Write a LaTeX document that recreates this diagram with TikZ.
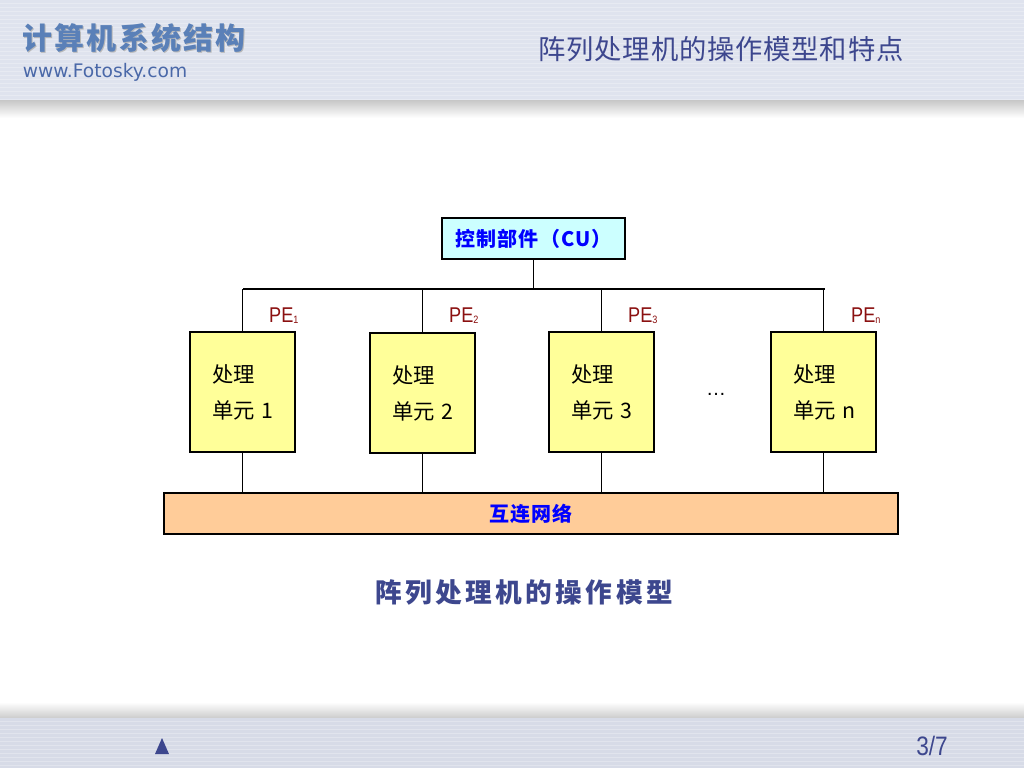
\documentclass[tikz,border=0pt]{standalone}
\usepackage{fontspec}
\setmainfont{Liberation Sans}
\newfontfamily\webfont{DejaVu Sans}
\newfontfamily\cjk{Noto Sans CJK SC}
\newfontfamily\cjklogo[LetterSpace=7]{Noto Sans CJK SC}
\newfontfamily\cjkmid[LetterSpace=3]{Noto Sans CJK SC}
\newfontfamily\cjkcap[LetterSpace=13]{Noto Sans CJK SC}
\newfontfamily\cjkbox[LetterSpace=6]{Noto Sans CJK SC}
\usetikzlibrary{shadows}
\definecolor{headbg}{HTML}{DFE3EE}
\definecolor{footbg}{HTML}{D7DBE7}
\definecolor{titleblue}{HTML}{3D478E}
\definecolor{logoblue}{HTML}{5A80B8}
\definecolor{webblue}{HTML}{4A68A8}
\definecolor{pered}{HTML}{8B1010}
\definecolor{cufill}{HTML}{CCFFFF}
\definecolor{pefill}{HTML}{FFFF99}
\definecolor{netfill}{HTML}{FFCC99}
\tikzset{
  box/.style={draw=black, line width=1.4pt, inner sep=0pt},
  cubox/.style={box, fill=cufill, minimum width=137.25pt, minimum height=30.75pt,
     font=\cjkbox\bfseries\fontsize{15}{18}\selectfont, text=blue},
  pebox/.style={box, fill=pefill, minimum height=90pt, inner xsep=16.5pt,
     text width=45.75pt, align=left, font=\cjk\fontsize{16}{27}\selectfont},
  netbox/.style={box, fill=netfill, minimum width=550.5pt, minimum height=30.75pt,
     font=\cjkbox\bfseries\fontsize{15}{18}\selectfont, text=blue},
  conn/.style={draw=black, line width=1pt},
  pelabel/.style={text=pered, font=\fontsize{16}{18}\selectfont, inner sep=0pt, xscale=0.85, transform shape},
}
\newcommand{\pesub}[1]{\raisebox{-0.1ex}{\fontsize{8}{9}\selectfont #1}}
\begin{document}
\begin{tikzpicture}[x=0.75pt, y=-0.75pt]
\useasboundingbox (0,0) rectangle (1024,768);
% header
\fill[white] (0,0) rectangle (1024,768);
\fill[headbg] (0,0) rectangle (1024,100);
\foreach \yy in {3,7,...,99} \draw[white, opacity=0.25, line width=0.5pt] (0,\yy) -- (1024,\yy);
\shade[top color=black!22, bottom color=white] (0,100) rectangle (1024,118);
% footer
\shade[top color=white, bottom color=black!20] (0,702) rectangle (1024,718);
\fill[footbg] (0,718) rectangle (1024,768);
\foreach \yy in {721,725,...,767} \draw[white, opacity=0.25, line width=0.5pt] (0,\yy) -- (1024,\yy);
% header texts
\node[text=black!28, font=\cjklogo\bfseries\fontsize{22.5}{26}\selectfont, inner sep=0pt] at (135,39.5) {计算机系统结构};
\node (logo) [text=logoblue, font=\cjklogo\bfseries\fontsize{22.5}{26}\selectfont, inner sep=0pt] at (134,38) {计算机系统结构};
\node (web) [text=webblue, font=\webfont\fontsize{14}{16}\selectfont, inner sep=0pt] at (105,72) {www.Fotosky.com};
\node (head) [text=titleblue, font=\cjkmid\fontsize{20.5}{24}\selectfont, inner sep=0pt] at (721,49) {阵列处理机的操作模型和特点};
% diagram
\node (cu) [cubox] at (533.5,238.5) {控制部件（CU）};
\node (pe1) [pebox] at (242.5,392) {处理\\单元~1};
\node (pe2) [pebox] at (422.5,393) {处理\\单元~2};
\node (pe3) [pebox] at (601.5,392) {处理\\单元~3};
\node (pen) [pebox] at (823.5,392) {处理\\单元~n};
\node (net) [netbox] at (531,513.5) {互连网络};
\coordinate (busL) at (243,289);
\coordinate (busR) at (825,289);
\draw[conn] (busL) -- (busR);
\draw[conn] (cu.south) -- (cu.south |- busL);
\foreach \p in {pe1,pe2,pe3,pen} {
  \draw[conn] (\p.north) -- (\p.north |- busL);
  \draw[conn] (\p.south) -- (\p.south |- net.north);
}
\node (l1) [pelabel, anchor=west] at (269,316) {PE\pesub{1}};
\node (l2) [pelabel, anchor=west] at (449,316) {PE\pesub{2}};
\node (l3) [pelabel, anchor=west] at (628,316) {PE\pesub{3}};
\node (ln) [pelabel, anchor=west] at (851,316) {PE\pesub{n}};
\node (dots) [font=\fontsize{15}{16}\selectfont, inner sep=0pt] at (716,394) {\dots};
% caption
\node (cap) [text=titleblue, font=\cjkcap\bfseries\fontsize{20}{24}\selectfont, inner sep=0pt] at (524,592) {阵列处理机的操作模型};
% footer
\fill[titleblue] (155,754) -- (169,754) -- (162,738) -- cycle;
\node (page) [text=titleblue, font=\fontsize{20}{22}\selectfont, inner sep=0pt, xscale=0.85, transform shape] at (932,746) {3/7};
\end{tikzpicture}
\end{document}
